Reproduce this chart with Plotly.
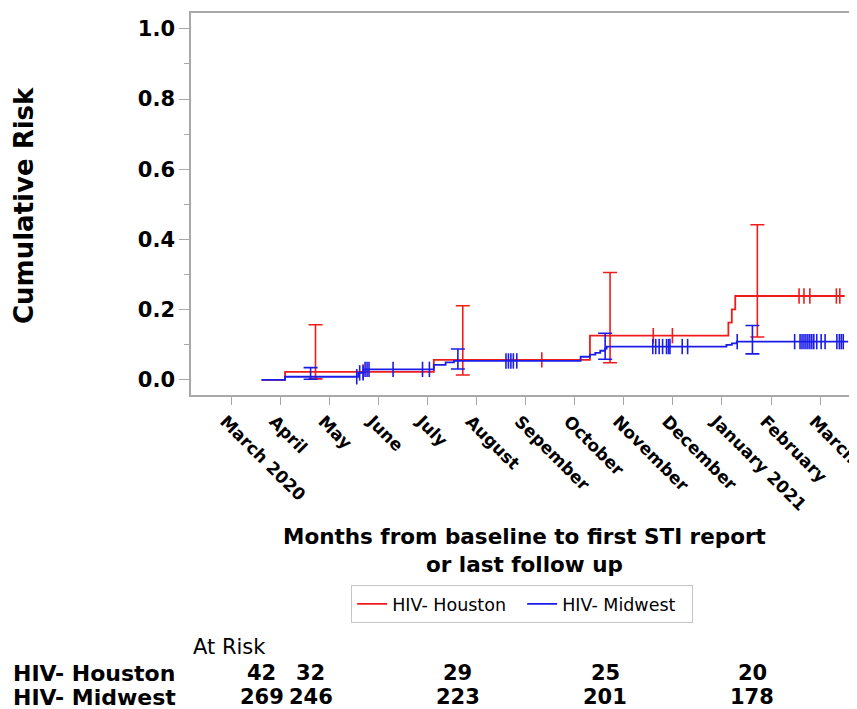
import plotly.graph_objects as go
import bisect

# ---- data (time in months from baseline) ----
month_labels = ["March 2020", "April", "May", "June", "July", "August", "Sepember",
                "October", "November", "December", "January 2021", "February", "March"]
month_offset = -0.62  # position of the "March 2020" tick relative to baseline

houston_t = [0, 0.48, 3.51, 6.69, 9.51, 9.58, 9.65, 11.88]
houston_risk = [0, 0.023, 0.057, 0.126, 0.163, 0.201, 0.239, 0.239]
houston_censor = [2.07, 5.71, 7.98, 8.37, 10.95, 11.05, 11.17, 11.71, 11.78]
houston_ci_t = [1.1, 4.1, 7.1, 10.1]
houston_ci_low = [0.003, 0.014, 0.049, 0.122]
houston_ci_high = [0.157, 0.211, 0.306, 0.442]

midwest_t = [0, 0.48, 1.97, 2.08, 3.51, 3.75, 3.92, 6.50, 6.69, 6.80, 6.90, 7.00, 7.03,
             9.47, 9.58, 9.68, 11.95]
midwest_risk = [0, 0.009, 0.020, 0.030, 0.043, 0.050, 0.054, 0.066, 0.072, 0.077, 0.083,
                0.089, 0.095, 0.100, 0.104, 0.109, 0.109]
midwest_censor = [1.94, 2.0, 2.07, 2.11, 2.15, 2.19, 2.68, 3.28, 3.42, 4.98, 5.03, 5.08,
                  5.13, 5.20, 7.97, 8.03, 8.10, 8.17, 8.25, 8.29, 8.32, 8.57, 8.68, 9.69,
                  10.86, 10.97, 11.01, 11.05, 11.09, 11.13, 11.17, 11.21, 11.25, 11.31,
                  11.40, 11.48, 11.72, 11.77, 11.81, 11.85]
midwest_ci_t = [1.0, 4.0, 7.0, 10.0]
midwest_ci_low = [0.002, 0.031, 0.059, 0.074]
midwest_ci_high = [0.035, 0.088, 0.133, 0.155]

atrisk_t = [0, 1, 4, 7, 10]
atrisk_houston = [42, 32, 29, 25, 20]
atrisk_midwest = [269, 246, 223, 201, 178]

RED = "#f01c1c"
BLUE = "#1c1ce8"
GRAY = "#a8a8a8"
FONT = "DejaVu Sans"


def step_value(ts, rs, t):
    i = bisect.bisect_right(ts, t) - 1
    return rs[max(i, 0)]


fig = go.Figure()

for name, ts, rs, cens, cit, clo, chi, col in [
    ("HIV- Houston", houston_t, houston_risk, houston_censor, houston_ci_t,
     houston_ci_low, houston_ci_high, RED),
    ("HIV- Midwest", midwest_t, midwest_risk, midwest_censor, midwest_ci_t,
     midwest_ci_low, midwest_ci_high, BLUE),
]:
    fig.add_trace(go.Scatter(x=ts, y=rs, mode="lines", line=dict(color=col, width=1.8, shape="hv"),
                             name=name, showlegend=True))
    est = [step_value(ts, rs, t) for t in cit]
    fig.add_trace(go.Scatter(
        x=cit, y=est, mode="markers", marker=dict(size=1, color=col, opacity=0),
        error_y=dict(type="data", symmetric=False,
                     array=[h - e for h, e in zip(chi, est)],
                     arrayminus=[e - l for l, e in zip(clo, est)],
                     color=col, thickness=1.6, width=7),
        showlegend=False, hoverinfo="skip"))
    fig.add_trace(go.Scatter(
        x=cens, y=[step_value(ts, rs, t) for t in cens], mode="markers",
        marker=dict(symbol="line-ns-open", size=11, color=col, line=dict(color=col, width=1.6)),
        showlegend=False, hoverinfo="skip"))

tickvals = [i + month_offset for i in range(len(month_labels))]

# page body has an 8px default margin; figure sized to fill the window exactly
fig.update_layout(
    width=849, height=701,
    margin=dict(l=183, r=0, t=5, b=314, autoexpand=False),
    paper_bgcolor="white", plot_bgcolor="white",
    font=dict(family=FONT, color="black"),
    showlegend=True,
    legend=dict(orientation="h", x=0.4972, y=-0.547, xanchor="center", yanchor="middle",
                bordercolor="#c4c4c4", borderwidth=1, font=dict(size=17.5, family=FONT),
                tracegroupgap=0, entrywidth=125, entrywidthmode="pixels"),
    xaxis=dict(range=[-1.436, 12.13], tickvals=tickvals, ticktext=month_labels,
               tickangle=45, ticks="outside", ticklen=8, tickcolor=GRAY, tickwidth=1.2,
               ticklabeloverflow="allow", automargin=False, ticklabelshift=-6,
               showline=True, linecolor=GRAY, linewidth=1.5, mirror=True,
               showgrid=False, zeroline=False,
               tickfont=dict(size=17, family=FONT, color="black", weight="bold")),
    yaxis=dict(range=[-0.043, 1.045], tickvals=[0, 0.2, 0.4, 0.6, 0.8, 1.0],
               ticktext=["0.0", "0.2", "0.4", "0.6", "0.8", "1.0"],
               ticks="outside", ticklen=10, tickcolor=GRAY, tickwidth=1.2,
               minor=dict(tickvals=[0.1, 0.3, 0.5, 0.7, 0.9], ticks="outside", ticklen=5,
                          tickcolor=GRAY, tickwidth=1.2),
               showline=True, linecolor=GRAY, linewidth=1.5, automargin=False,
               showgrid=False, zeroline=False,
               tickfont=dict(size=21, family=FONT, color="black", weight="bold")),
)

ann = []
ann.append(dict(text="<b>Cumulative Risk</b>", xref="paper", yref="paper", x=-0.251, y=0.497,
                textangle=-90, showarrow=False, font=dict(size=26, family=FONT),
                xanchor="center", yanchor="middle"))
ann.append(dict(text="<b>Months from baseline to first STI report<br>or last follow up</b>",
                xref="paper", yref="paper", x=0.501, y=-0.406, showarrow=False,
                font=dict(size=21.5, family=FONT), xanchor="center", yanchor="middle"))
ann.append(dict(text="At Risk", xref="paper", yref="paper", x=0.0, y=-0.66, showarrow=False,
                font=dict(size=21, family=FONT), xanchor="left", yanchor="middle"))
for label, vals, yy in [("HIV- Houston", atrisk_houston, -0.728),
                        ("HIV- Midwest", atrisk_midwest, -0.791)]:
    ann.append(dict(text="<b>" + label + "</b>", xref="paper", yref="paper", x=-0.27, y=yy,
                    showarrow=False, font=dict(size=22, family=FONT), xanchor="left",
                    yanchor="middle"))
    for t, v in zip(atrisk_t, vals):
        ann.append(dict(text="<b>%d</b>" % v, xref="x", yref="paper", x=t, y=yy,
                        showarrow=False, font=dict(size=21, family=FONT),
                        xanchor="center", yanchor="middle"))
fig.update_layout(annotations=ann)

# clip the last month label at the window edge (as in the original) instead of widening the page
fig.write_html(
    "out.html",
    post_script="document.querySelectorAll('.main-svg').forEach(function(s){s.style.overflow='hidden';});",
)
